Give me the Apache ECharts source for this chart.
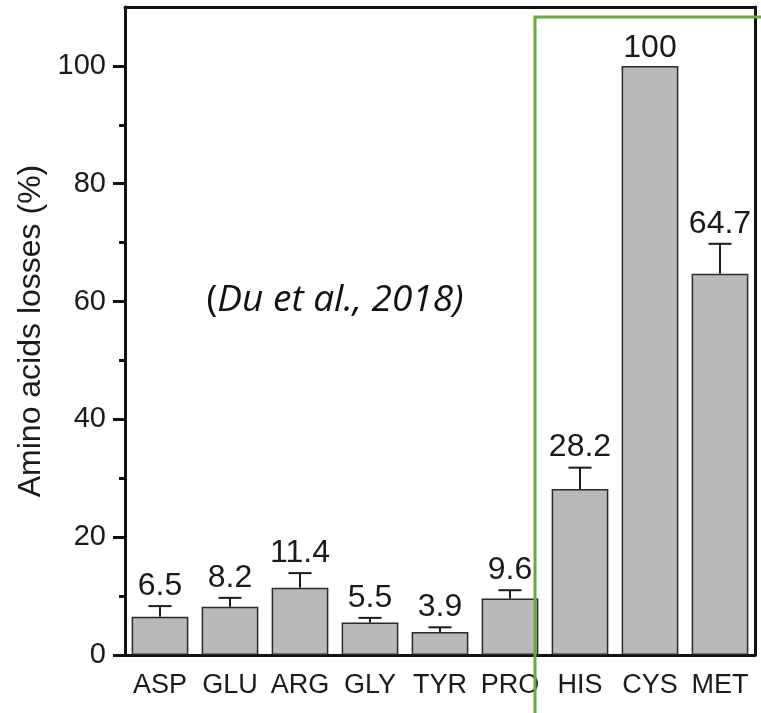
<!DOCTYPE html>
<html>
<head>
<meta charset="utf-8">
<script src="https://cdn.jsdelivr.net/npm/echarts@6/dist/echarts.min.js"></script>
<style>html,body{margin:0;padding:0;background:#fff;}#c{width:761px;height:713px;}</style>
</head>
<body>
<div id="c"></div>
<script>
const categories = ['ASP','GLU','ARG','GLY','TYR','PRO','HIS','CYS','MET'];
const values = [6.5, 8.2, 11.4, 5.5, 3.9, 9.6, 28.2, 100, 64.7];
const errors = [1.8, 1.5, 2.5, 0.8, 0.8, 1.4, 3.6, 0, 5.1];
const labels = ['6.5','8.2','11.4','5.5','3.9','9.6','28.2','100','64.7'];
const yMajorTicks = [0, 20, 40, 60, 80, 100];
const yMinorTicks = [10, 30, 50, 70, 90];
const yTitle = 'Amino acids losses (%)';
const citation = 'Du et al., 2018';

const errData = values.map((v, i) => [i, v, v + errors[i], errors[i]]);
const font = 'Liberation Sans, Arial, sans-serif';

const chart = echarts.init(document.getElementById('c'), null, {renderer: 'canvas'});
chart.setOption({
  backgroundColor: '#fff',
  animation: false,
  grid: {left: 125, right: 6, top: 7, bottom: 58, containLabel: false},
  xAxis: [
    {type: 'category', data: categories, position: 'bottom',
     axisLine: {lineStyle: {color: '#111', width: 3}},
     axisTick: {show: false},
     axisLabel: {color: '#1a1a1a', fontSize: 27, fontFamily: font, margin: 17, interval: 0}},
    {type: 'category', data: categories, position: 'top',
     axisLine: {show: true, onZero: false, lineStyle: {color: '#111', width: 3}},
     axisTick: {show: false}, axisLabel: {show: false}}
  ],
  yAxis: [
    {type: 'value', min: 0, max: 110, position: 'left',
     name: yTitle, nameLocation: 'middle', nameGap: 76, nameRotate: 90,
     nameTextStyle: {color: '#1a1a1a', fontSize: 32, fontFamily: font},
     axisLine: {show: true, lineStyle: {color: '#111', width: 3}},
     axisTick: {show: true, length: 12, lineStyle: {color: '#111', width: 3}, customValues: yMajorTicks},
     axisLabel: {color: '#1a1a1a', fontSize: 29, fontFamily: font, margin: 19, customValues: yMajorTicks},
     splitLine: {show: false}},
    {type: 'value', min: 0, max: 110, position: 'left',
     axisLine: {show: false},
     axisTick: {show: true, length: 6, lineStyle: {color: '#111', width: 3}, customValues: yMinorTicks},
     axisLabel: {show: false}, splitLine: {show: false}},
    {type: 'value', min: 0, max: 110, position: 'right',
     axisLine: {show: true, lineStyle: {color: '#111', width: 3}},
     axisTick: {show: false}, axisLabel: {show: false}, splitLine: {show: false}}
  ],
  series: [
    {type: 'bar', data: values, barCategoryGap: '19%',
     itemStyle: {color: '#b9b9b9', borderColor: '#2a2a2a', borderWidth: 1.5}},
    {type: 'custom', data: errData, z: 5,
     renderItem: function (params, api) {
       const x = api.value(0), v = api.value(1), hi = api.value(2), e = api.value(3);
       const pTop = api.coord([x, hi]);
       const pBase = api.coord([x, v]);
       const hw = 11.5;
       const children = [];
       if (e > 0) {
         children.push({type: 'line', shape: {x1: pTop[0], y1: pBase[1], x2: pTop[0], y2: pTop[1]},
           style: {stroke: '#1a1a1a', lineWidth: 2}});
         children.push({type: 'line', shape: {x1: pTop[0] - hw, y1: pTop[1], x2: pTop[0] + hw, y2: pTop[1]},
           style: {stroke: '#1a1a1a', lineWidth: 2}});
       }
       children.push({type: 'text', x: pTop[0], y: pTop[1] - (e > 0 ? 4 : 2),
         style: {text: labels[params.dataIndex], fill: '#1a1a1a', font: '32px ' + font,
                 align: 'center', verticalAlign: 'bottom'}});
       return {type: 'group', children: children};
     }}
  ],
  graphic: [
    {type: 'rect', shape: {x: 535, y: 17, width: 400, height: 800},
     style: {fill: 'none', stroke: '#6aaa3c', lineWidth: 3}, z: 100},
    {type: 'text', x: 335, y: 300,
     style: {text: '{n|(}{i|' + citation + ')}',
       align: 'center', verticalAlign: 'middle',
       rich: {n: {fontSize: 37, fontFamily: 'Open Sans, sans-serif', fill: '#111'},
              i: {fontSize: 37, fontFamily: 'Open Sans, sans-serif', fontStyle: 'italic', fill: '#111'}}},
     z: 100}
  ]
});
</script>
</body>
</html>
